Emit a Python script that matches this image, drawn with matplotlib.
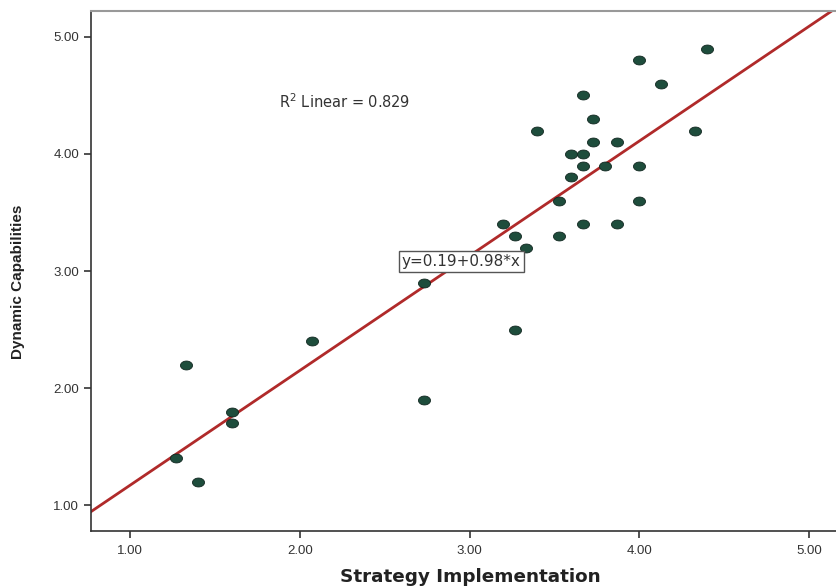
import matplotlib
matplotlib.use("Agg")
import matplotlib.pyplot as plt
import matplotlib.path as mpath
import numpy as np

plt.rcParams["font.family"] = ["Liberation Sans", "DejaVu Sans"]

# Strategy Implementation (x) and Dynamic Capabilities (y)
strategy = [4.00, 4.40, 4.13, 3.67, 3.73, 3.40, 4.33, 3.60, 3.67, 3.73, 3.87,
            3.67, 3.80, 4.00, 3.60, 3.53, 4.00, 3.20, 3.67, 3.87, 3.27, 3.53,
            3.33, 2.73, 3.27, 2.07, 1.33, 2.73, 1.60, 1.60, 1.27, 1.40]
dynamic = [4.80, 4.90, 4.60, 4.50, 4.30, 4.20, 4.20, 4.00, 4.00, 4.10, 4.10,
           3.90, 3.90, 3.90, 3.80, 3.60, 3.60, 3.40, 3.40, 3.40, 3.30, 3.30,
           3.20, 2.90, 2.50, 2.40, 2.20, 1.90, 1.80, 1.70, 1.40, 1.20]

intercept = 0.19
slope = 0.98
r_squared = 0.829

ticks = [1.0, 2.0, 3.0, 4.0, 5.0]
tick_labels = ["1.00", "2.00", "3.00", "4.00", "5.00"]

fig = plt.figure(figsize=(8.37, 5.86), dpi=100)
ax = fig.add_axes([0.1087, 0.094, 0.8913, 0.887])

# SPSS draws slightly flattened dots
t = np.linspace(0, 2 * np.pi, 40)
ellipse = mpath.Path(np.column_stack([1.35 * np.cos(t), np.sin(t)]))

ax.scatter(strategy, dynamic, marker=ellipse, s=75, color="#1e4d3c",
           edgecolors="#10261f", linewidths=0.6, zorder=3)

xlim = (0.77, 5.165)
xs = np.array(xlim)
ax.plot(xs, intercept + slope * xs, color="#b02a2a", linewidth=2.0, zorder=2)

ax.set_xlim(*xlim)
ax.set_ylim(0.78, 5.22)
ax.set_xticks(ticks)
ax.set_xticklabels(tick_labels)
ax.set_yticks(ticks)
ax.set_yticklabels(tick_labels)
ax.tick_params(axis="both", direction="out", length=5, width=1.2,
               labelsize=9.5, colors="#333333")
ax.tick_params(axis="x", pad=5)

ax.set_xlabel("Strategy Implementation", fontsize=13.2, fontweight="bold",
              family=["DejaVu Sans"], color="#222222", va="center")
ax.xaxis.set_label_coords(0.508, -0.088)
ax.set_ylabel("Dynamic Capabilities", fontsize=11, fontweight="bold",
              color="#222222", va="center")
ax.yaxis.set_label_coords(-0.098, 0.48)

ax.spines["left"].set_color("#333333")
ax.spines["bottom"].set_color("#333333")
ax.spines["left"].set_linewidth(1.2)
ax.spines["bottom"].set_linewidth(1.2)
ax.spines["top"].set_color("#999999")
ax.spines["top"].set_linewidth(1.5)
ax.spines["right"].set_visible(False)

ax.text(1.88, 4.45, "R$^2$ Linear = " + f"{r_squared:.3f}", fontsize=10.5,
        family=["DejaVu Sans"], color="#333333", va="center", ha="left")
ax.text(2.6, 3.08, f"y={intercept:.2f}+{slope:.2f}*x", fontsize=11,
        family=["DejaVu Sans"], color="#333333", va="center", ha="left",
        bbox=dict(boxstyle="square,pad=0.2", facecolor="white",
                  edgecolor="#555555", linewidth=1.0), zorder=4)

fig.savefig("out.png", dpi=100)
